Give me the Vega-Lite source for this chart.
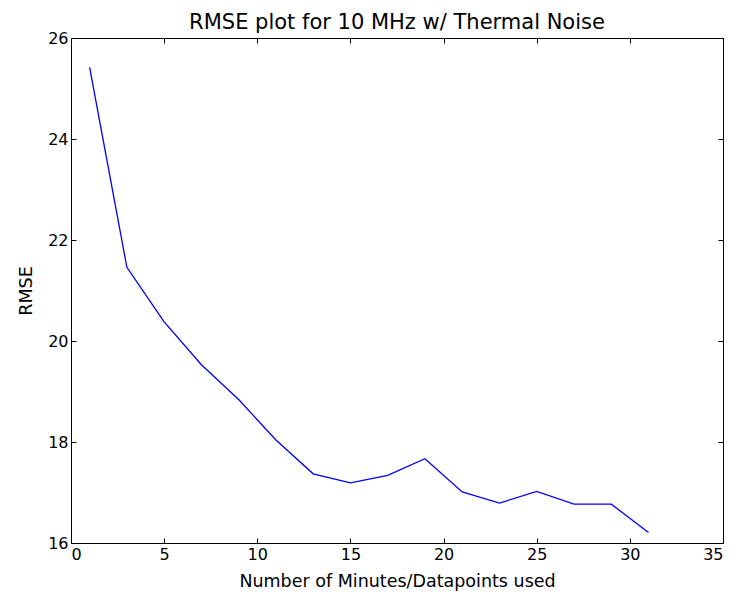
{
  "$schema": "https://vega.github.io/schema/vega-lite/v6.json",
  "width": 652,
  "height": 505,
  "autosize": "none",
  "padding": {"left": 71, "top": 38, "right": 13, "bottom": 53},
  "background": "white",
  "title": {"text": "RMSE plot for 10 MHz w/ Thermal Noise", "font": "DejaVu Sans", "fontSize": 21, "fontWeight": "normal", "color": "black", "offset": -3, "anchor": "middle"},
  "config": {
    "view": {"stroke": "black", "strokeWidth": 1},
    "axis": {"labelFont": "DejaVu Sans", "labelFontSize": 16, "labelColor": "black", "titleFont": "DejaVu Sans", "titleFontSize": 17.5, "titleFontWeight": "normal", "titleColor": "black", "grid": false, "domain": false, "tickColor": "black", "tickSize": -5, "tickWidth": 1, "labelPadding": 8}
  },
  "data": {"values": [
    {"minutes": 1, "rmse": 25.42},
    {"minutes": 3, "rmse": 21.46},
    {"minutes": 5, "rmse": 20.38},
    {"minutes": 7, "rmse": 19.53},
    {"minutes": 9, "rmse": 18.84},
    {"minutes": 11, "rmse": 18.04},
    {"minutes": 13, "rmse": 17.37},
    {"minutes": 15, "rmse": 17.19},
    {"minutes": 17, "rmse": 17.34},
    {"minutes": 19, "rmse": 17.67},
    {"minutes": 21, "rmse": 17.01},
    {"minutes": 23, "rmse": 16.79},
    {"minutes": 25, "rmse": 17.02},
    {"minutes": 27, "rmse": 16.77},
    {"minutes": 29, "rmse": 16.77},
    {"minutes": 31, "rmse": 16.21}
  ]},
  "layer": [
    {
      "mark": {"type": "line", "color": "#0000ff", "strokeWidth": 1.3},
      "encoding": {
        "x": {"field": "minutes", "type": "quantitative", "scale": {"domain": [0, 35], "nice": false}, "axis": {"title": "Number of Minutes/Datapoints used", "values": [0, 5, 10, 15, 20, 25, 30, 35], "titlePadding": 10}},
        "y": {"field": "rmse", "type": "quantitative", "scale": {"domain": [16, 26], "nice": false, "zero": false}, "axis": {"title": "RMSE", "values": [16, 18, 20, 22, 24, 26], "titlePadding": 12}}
      }
    },
    {
      "mark": {"type": "line", "opacity": 0},
      "encoding": {
        "x": {"field": "minutes", "type": "quantitative", "scale": {"domain": [0, 35], "nice": false}, "axis": {"orient": "top", "title": null, "labels": false, "values": [0, 5, 10, 15, 20, 25, 30, 35]}},
        "y": {"field": "rmse", "type": "quantitative", "scale": {"domain": [16, 26], "nice": false, "zero": false}, "axis": {"orient": "right", "title": null, "labels": false, "values": [16, 18, 20, 22, 24, 26]}}
      }
    }
  ],
  "resolve": {"axis": {"x": "independent", "y": "independent"}}
}
